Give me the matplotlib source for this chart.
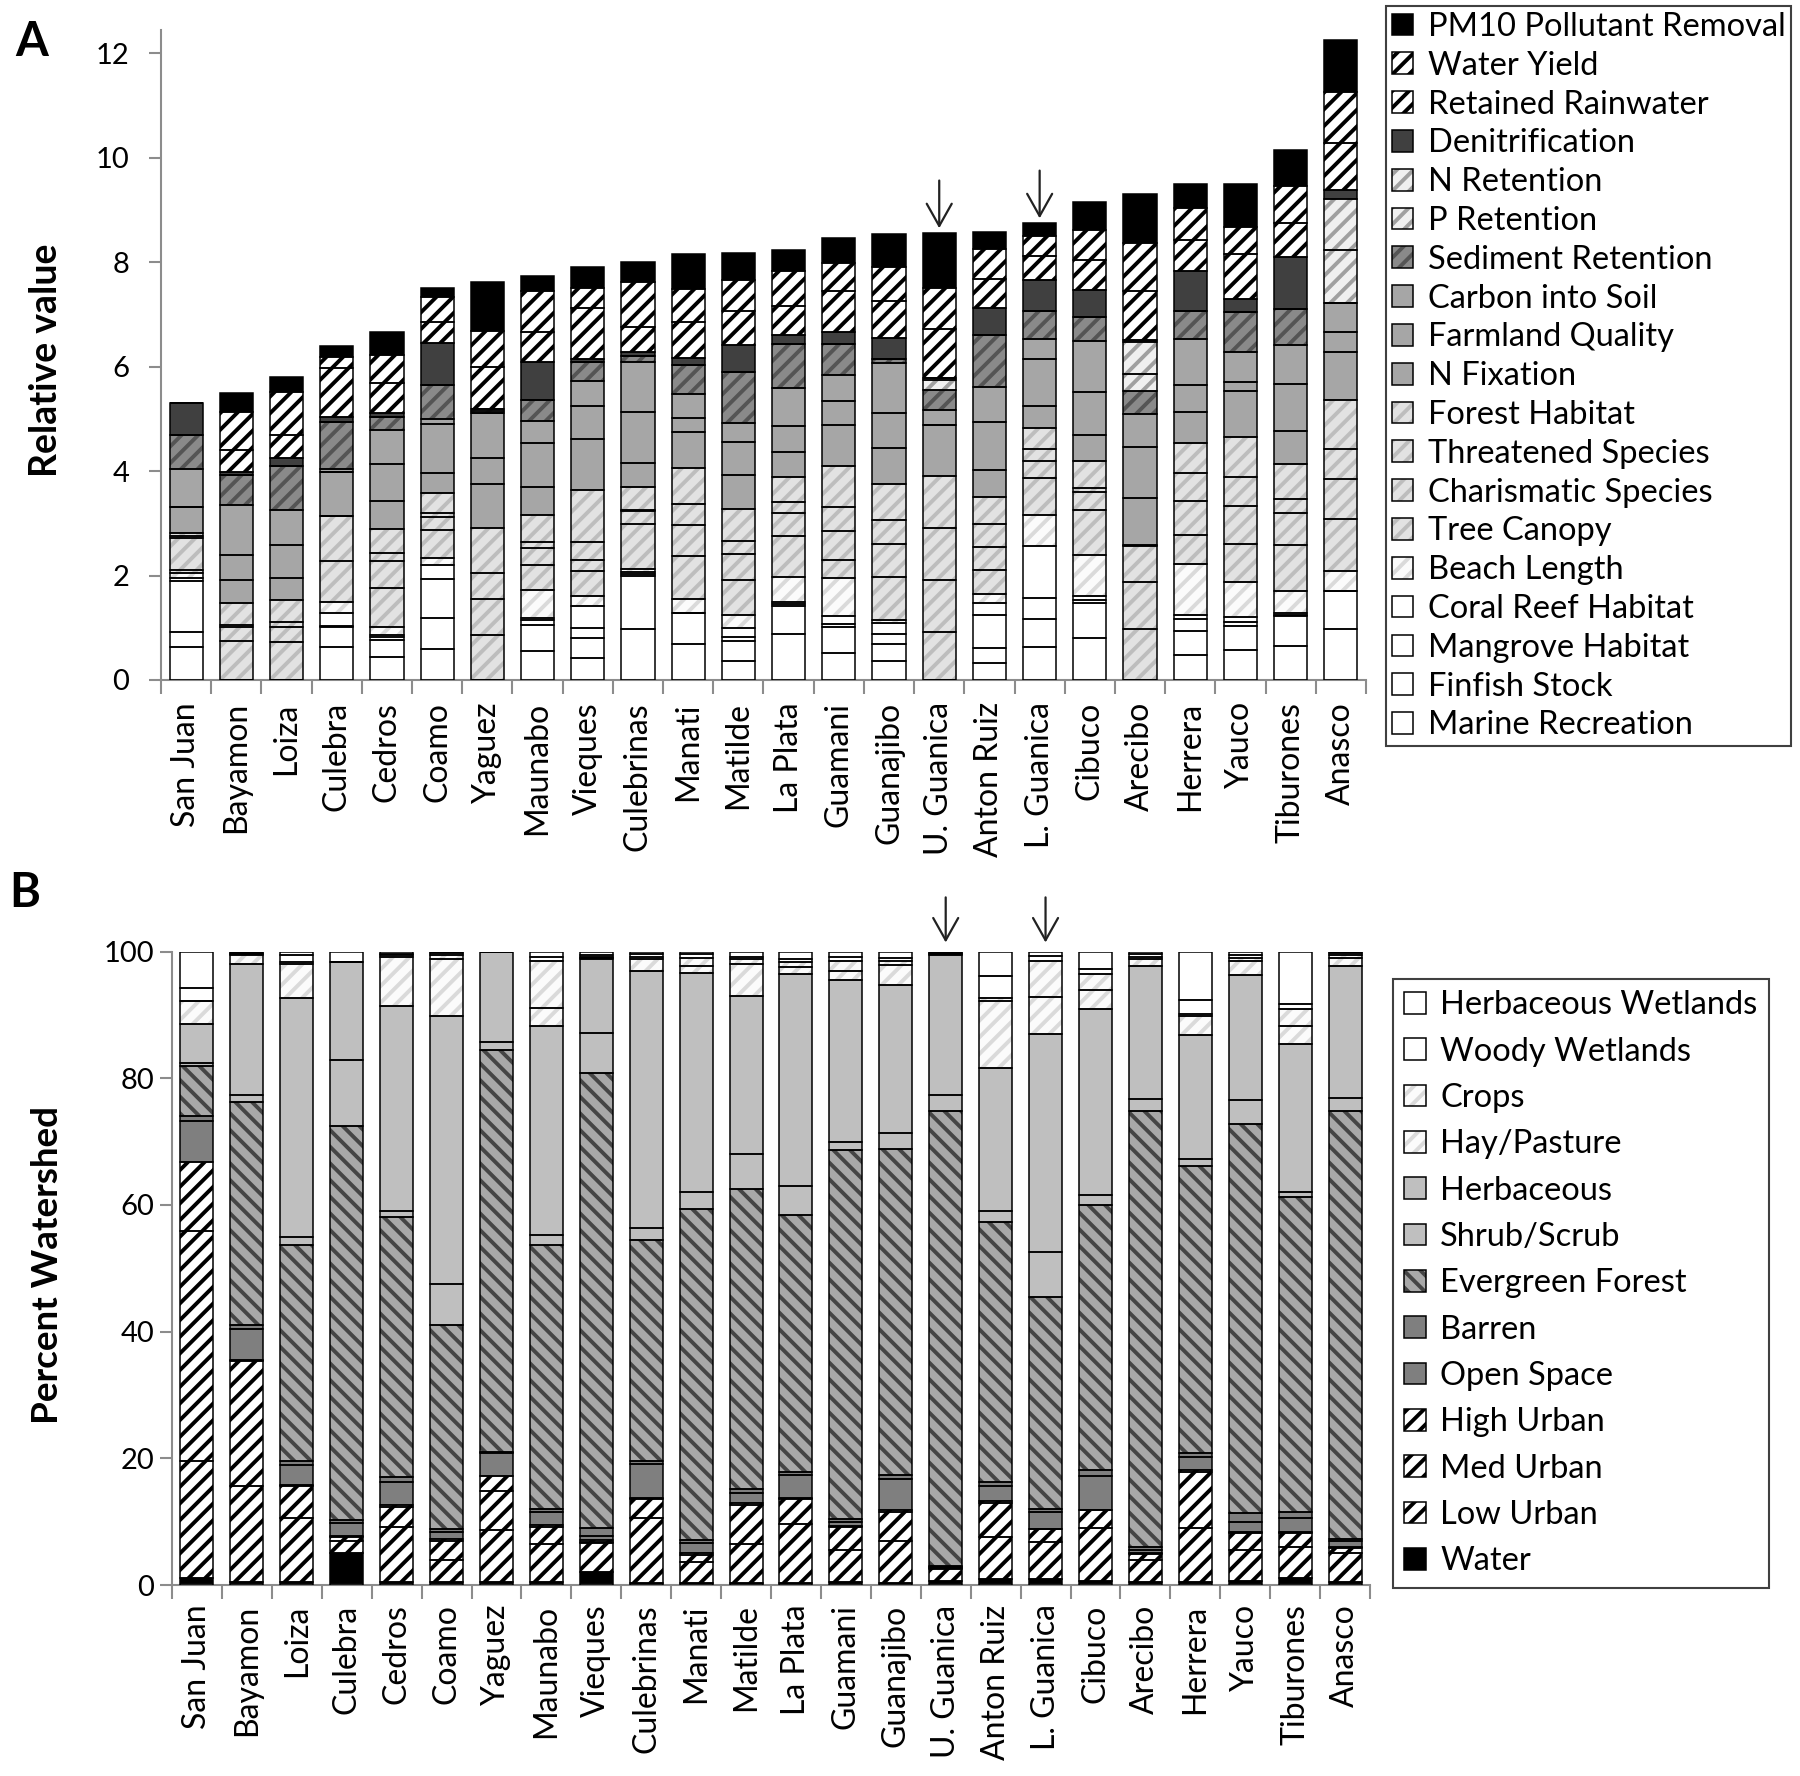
import matplotlib
matplotlib.use('Agg')
import matplotlib.pyplot as plt
from matplotlib.patches import Patch
import numpy as np

plt.rcParams['font.family'] = ['Lato', 'DejaVu Sans']
plt.rcParams['hatch.linewidth'] = 2.8

watersheds = ['San Juan', 'Bayamon', 'Loiza', 'Culebra', 'Cedros', 'Coamo', 'Yaguez',
              'Maunabo', 'Vieques', 'Culebrinas', 'Manati', 'Matilde', 'La Plata',
              'Guamani', 'Guanajibo', 'U. Guanica', 'Anton Ruiz', 'L. Guanica',
              'Cibuco', 'Arecibo', 'Herrera', 'Yauco', 'Tiburones', 'Anasco']
arrow_sites = ['U. Guanica', 'L. Guanica']

# panel A - ecosystem service relative values (stack order, bottom first)
marine_recreation = [0.63, 0, 0, 0.63, 0.45, 0.59, 0, 0.56, 0.43, 0.98, 0.69, 0.36, 0.89, 0.51, 0.36, 0, 0.32, 0.63, 0.81, 0, 0.47, 0.57, 0.66, 0.97]
finfish_stock = [0.29, 0, 0, 0.38, 0.32, 0.59, 0, 0.49, 0.38, 1.01, 0.60, 0.38, 0.53, 0.51, 0.33, 0, 0.29, 0.53, 0.67, 0, 0.47, 0.46, 0.56, 0.74]
mangrove_habitat = [0.98, 0, 0, 0.03, 0.05, 0.75, 0, 0.09, 0.19, 0.04, 0, 0.09, 0.04, 0.05, 0.20, 0, 0.63, 0.42, 0.06, 0, 0.23, 0.09, 0.03, 0]
coral_reef = [0.05, 0, 0, 0.24, 0.05, 0.27, 0, 0.04, 0.41, 0.03, 0, 0.16, 0.04, 0.15, 0.20, 0, 0.23, 0.99, 0.06, 0, 0.07, 0.08, 0.03, 0]
beach_length = [0.10, 0, 0, 0.22, 0.15, 0.13, 0, 0.54, 0.20, 0.07, 0.26, 0.25, 0.48, 0.73, 0.05, 0, 0.17, 0.59, 0.80, 0, 0.98, 0.68, 0.43, 0.37]
tree_canopy = [0.05, 0.75, 0.73, 0.77, 0.74, 0.54, 0.87, 0.48, 0.47, 0.85, 0.83, 0.67, 0.77, 0.35, 0.83, 0.91, 0.47, 0.70, 0.85, 0.97, 0.56, 0.73, 0.88, 1.00]
charismatic = [0.62, 0.27, 0.29, 0.87, 0.51, 0.26, 0.69, 0.32, 0.22, 0.25, 0.58, 0.50, 0.45, 0.55, 0.64, 1.00, 0.43, 0.33, 0.36, 0.91, 0.64, 0.73, 0.60, 0.77]
threatened = [0.04, 0.03, 0.10, 0, 0.16, 0.06, 0.48, 0.13, 0.35, 0.03, 0.41, 0.25, 0.20, 0.46, 0.46, 1.00, 0.44, 0.23, 0.07, 0.69, 0.54, 0.54, 0.27, 0.57]
forest_habitat = [0.05, 0.42, 0.41, 0, 0.46, 0.40, 0.88, 0.51, 0.99, 0.43, 0.69, 0.61, 0.49, 0.78, 0.69, 0.99, 0.52, 0.41, 0.51, 0.02, 0.57, 0.78, 0.67, 0.94]
n_fixation = [0.51, 0.44, 0.42, 0.85, 0.53, 0.38, 0.83, 0.54, 0.98, 0.47, 0.69, 0.66, 0.48, 0.79, 0.68, 0.99, 0.53, 0.42, 0.51, 0.90, 0.60, 0.87, 0.63, 0.93]
farmland = [0, 0.48, 0.64, 0, 0.71, 0.93, 0.50, 0.83, 0.63, 0.97, 0.27, 0.62, 0.49, 0.47, 0.68, 0, 0.91, 0.90, 0.82, 0.97, 0.52, 0.18, 0.91, 0.38]
carbon_soil = [0.72, 0.96, 0.67, 0.06, 0.65, 0.10, 0.86, 0.44, 0.48, 0.96, 0.45, 0.38, 0.73, 0.49, 0.95, 0.28, 0.68, 0.38, 0.98, 0.64, 0.88, 0.58, 0.75, 0.56]
sediment = [0.65, 0.58, 0.83, 0.90, 0.26, 0.65, 0, 0.39, 0.36, 0.11, 0.57, 0.96, 0.84, 0.60, 0.08, 0.38, 0.99, 0.53, 0.45, 0.44, 0.54, 0.75, 0.68, 0]
p_retention = [0, 0, 0, 0, 0, 0, 0.04, 0, 0, 0, 0, 0, 0, 0, 0, 0.19, 0, 0, 0, 0.33, 0, 0, 0, 1.01]
n_retention = [0, 0, 0, 0, 0, 0, 0.04, 0, 0, 0, 0, 0, 0, 0, 0, 0.04, 0, 0, 0, 0.60, 0, 0, 0, 0.97]
denitrification = [0.62, 0.05, 0.16, 0.09, 0.07, 0.81, 0, 0.74, 0.06, 0.09, 0.13, 0.53, 0.17, 0.23, 0.40, 0, 0.52, 0.60, 0.52, 0.04, 0.77, 0.26, 1.00, 0.17]
retained_rain = [0, 0.42, 0.44, 0.93, 0.57, 0.40, 0.81, 0.56, 0.98, 0.47, 0.69, 0.64, 0.57, 0.78, 0.71, 0.94, 0.56, 0.47, 0.57, 0.94, 0.59, 0.85, 0.65, 0.91]
water_yield = [0, 0.74, 0.83, 0.22, 0.55, 0.48, 0.69, 0.80, 0.38, 0.86, 0.63, 0.60, 0.66, 0.54, 0.66, 0.79, 0.57, 0.38, 0.57, 0.92, 0.61, 0.53, 0.72, 0.98]
pm10 = [0, 0.35, 0.28, 0.20, 0.44, 0.17, 0.94, 0.28, 0.41, 0.38, 0.66, 0.52, 0.40, 0.47, 0.63, 1.06, 0.33, 0.25, 0.54, 0.94, 0.46, 0.82, 0.68, 0.98]

# panel B - land cover percent of watershed (stack order, bottom first)
water = [1.1, 0.4, 0.4, 5.1, 0.5, 0.4, 0.4, 0.4, 2.0, 0.3, 0.3, 0.3, 0.3, 0.5, 0.3, 0.7, 0.9, 0.9, 0.7, 0.5, 0.5, 0.7, 1.1, 0.5]
low_urban = [18.5, 15.3, 10.1, 1.8, 8.6, 3.6, 8.3, 6.1, 4.6, 10.3, 3.4, 6.1, 9.3, 5.1, 6.7, 1.8, 6.7, 5.9, 8.3, 3.5, 8.5, 4.9, 4.9, 4.5]
med_urban = [36.3, 19.6, 5.1, 0.7, 3.2, 2.9, 6.2, 2.6, 0.2, 3.0, 1.0, 6.2, 4.0, 3.5, 4.5, 0.2, 5.4, 2.0, 2.8, 0.9, 8.9, 2.6, 2.2, 0.8]
high_urban = [10.9, 0.3, 0.2, 0.2, 0.4, 0.4, 2.3, 0.4, 0.3, 0.1, 0.3, 0.3, 0.2, 0.2, 0.3, 0.1, 0.3, 0.1, 0.1, 0.1, 0.2, 0.1, 0.1, 0.2]
open_space = [6.5, 4.8, 3.1, 2.0, 3.6, 1.0, 3.6, 2.1, 0.7, 5.4, 1.6, 1.7, 3.5, 0.7, 5.0, 0.1, 2.3, 2.7, 5.3, 0.6, 2.1, 1.7, 2.3, 1.0]
barren = [0.7, 0.7, 0.7, 0.4, 0.8, 0.6, 0.2, 0.4, 1.2, 0.4, 0.5, 0.5, 0.5, 0.4, 0.5, 0.1, 0.7, 0.4, 0.9, 0.4, 0.6, 1.3, 0.9, 0.3]
evergreen = [8.0, 35.1, 34.1, 62.2, 41.0, 32.2, 63.4, 41.7, 71.9, 35.0, 52.2, 47.4, 40.6, 58.2, 51.5, 71.9, 41.0, 33.4, 41.9, 68.9, 45.4, 61.5, 49.8, 67.6]
shrub = [0.4, 1.2, 1.2, 10.5, 0.9, 6.4, 1.4, 1.5, 6.3, 1.8, 2.8, 5.6, 4.6, 1.4, 2.5, 2.5, 1.8, 7.1, 1.6, 1.8, 1.1, 3.8, 0.7, 2.0]
herbaceous = [6.1, 20.6, 37.8, 15.4, 32.4, 42.3, 14.2, 33.1, 11.6, 40.7, 34.6, 24.9, 33.4, 25.5, 23.5, 22.1, 22.6, 34.5, 29.4, 21.0, 19.5, 19.7, 23.4, 20.8]
hay_pasture = [3.7, 1.4, 5.3, 0, 7.7, 9.1, 0, 2.8, 0.2, 1.8, 1.0, 5.1, 1.2, 1.5, 3.1, 0.2, 10.5, 5.8, 2.9, 1.1, 3.1, 2.2, 2.8, 1.3]
crops = [0, 0.2, 0.3, 0, 0.3, 0.5, 0, 7.4, 0.2, 0.4, 1.3, 0.7, 0.8, 1.5, 0.6, 0.1, 0.5, 5.7, 2.6, 0.4, 0.3, 0.5, 2.8, 0.5]
woody_wetlands = [2.0, 0.2, 1.1, 0.1, 0.3, 0.4, 0, 0.6, 0.2, 0.4, 0.6, 0.4, 0.5, 0.7, 0.5, 0.1, 3.4, 0.8, 0.8, 0.4, 2.2, 0.5, 0.7, 0.3]
herb_wetlands = [5.8, 0.2, 0.6, 1.6, 0.3, 0.2, 0, 0.9, 0.6, 0.4, 0.4, 0.8, 1.1, 0.8, 1.0, 0.1, 3.9, 0.7, 2.7, 0.4, 7.6, 0.5, 8.3, 0.2]

# fill styles: (face, hatch, hatch colour)
WHITE = ('white', None, 'black')
STRIPE = ('white', '//', 'black')
LIGHT = ('#e2e2e2', '//', '#bdbdbd')
FAINT = ('#fbfbfb', '//', '#dadada')
GRAY = ('#a6a6a6', None, 'black')

series_a = [
    ('Marine Recreation', marine_recreation, WHITE),
    ('Finfish Stock', finfish_stock, WHITE),
    ('Mangrove Habitat', mangrove_habitat, WHITE),
    ('Coral Reef Habitat', coral_reef, WHITE),
    ('Beach Length', beach_length, FAINT),
    ('Tree Canopy', tree_canopy, LIGHT),
    ('Charismatic Species', charismatic, LIGHT),
    ('Threatened Species', threatened, LIGHT),
    ('Forest Habitat', forest_habitat, LIGHT),
    ('N Fixation', n_fixation, GRAY),
    ('Farmland Quality', farmland, GRAY),
    ('Carbon into Soil', carbon_soil, GRAY),
    ('Sediment Retention', sediment, ('#8a8a8a', '//', '#555555')),
    ('P Retention', p_retention, ('#f0f0f0', '//', '#a0a0a0')),
    ('N Retention', n_retention, ('#f0f0f0', '//', '#a0a0a0')),
    ('Denitrification', denitrification, ('#404040', None, 'black')),
    ('Retained Rainwater', retained_rain, STRIPE),
    ('Water Yield', water_yield, STRIPE),
    ('PM10 Pollutant Removal', pm10, ('black', None, 'black')),
]

series_b = [
    ('Water', water, ('black', None, 'black')),
    ('Low Urban', low_urban, STRIPE),
    ('Med Urban', med_urban, STRIPE),
    ('High Urban', high_urban, STRIPE),
    ('Open Space', open_space, ('#7f7f7f', None, 'black')),
    ('Barren', barren, ('#7f7f7f', None, 'black')),
    ('Evergreen Forest', evergreen, ('#a8a8a8', '\\\\', '#454545')),
    ('Shrub/Scrub', shrub, ('#bfbfbf', None, 'black')),
    ('Herbaceous', herbaceous, ('#bfbfbf', None, 'black')),
    ('Hay/Pasture', hay_pasture, FAINT),
    ('Crops', crops, FAINT),
    ('Woody Wetlands', woody_wetlands, WHITE),
    ('Herbaceous Wetlands', herb_wetlands, WHITE),
]

W, H = 1800, 1776
fig = plt.figure(figsize=(W / 100, H / 100), dpi=100)
axA = fig.add_axes([161 / W, 1 - 680 / H, 1205 / W, 650 / H])
axB = fig.add_axes([172 / W, 1 - 1585 / H, 1198 / W, 633.4 / H])

x = np.arange(len(watersheds))
bw = 0.66


def stack(ax, series):
    bottom = np.zeros(len(watersheds))
    handles = []
    for name, vals, (face, hatch, hc) in series:
        vals = np.array(vals, dtype=float)
        ax.bar(x, vals, bw, bottom=bottom, color=face, hatch=hatch,
               edgecolor=hc, linewidth=0, zorder=2)
        ax.bar(x, vals, bw, bottom=bottom, fill=False, edgecolor='black',
               linewidth=1.1, zorder=3)
        h1 = Patch(facecolor=face, hatch=hatch, edgecolor=hc, linewidth=0)
        h2 = Patch(fill=False, edgecolor='black', linewidth=1.1)
        handles.append(((h1, h2), name))
        bottom = bottom + vals
    return bottom, handles


def style_axis(ax, ymax, step, xpad):
    for s in ['top', 'right']:
        ax.spines[s].set_visible(False)
    for s in ['left', 'bottom']:
        ax.spines[s].set_color('#8c8c8c')
        ax.spines[s].set_linewidth(1.5)
    ax.set_xlim(-0.5, len(watersheds) - 0.5)
    ax.set_ylim(0, ymax)
    ax.set_yticks(np.arange(0, ymax + 0.01, step))
    ax.set_xticks(x)
    ax.set_xticklabels(watersheds, rotation=90, fontsize=23)
    ax.set_xticks(np.arange(-0.5, len(watersheds)), minor=True)
    ax.tick_params(axis='x', which='major', length=0, pad=xpad)
    ax.tick_params(axis='x', which='minor', length=10, width=1.5, color='#8c8c8c')
    ax.tick_params(axis='y', length=9, width=1.5, color='#8c8c8c', labelsize=21, pad=14)


totA, handlesA = stack(axA, series_a)
totB, handlesB = stack(axB, series_b)

style_axis(axA, 12.45, 2, 16)
axA.set_yticks(np.arange(0, 13, 2))
style_axis(axB, 100, 20, 14)
axB.tick_params(axis='y', pad=4)

for site in arrow_sites:
    i = watersheds.index(site)
    axA.annotate('', xy=(i, totA[i] + 0.03), xytext=(i, totA[i] + 1.05),
                 arrowprops=dict(arrowstyle='->,head_length=0.8,head_width=0.45',
                                 lw=1.6, color='#222222', mutation_scale=20),
                 annotation_clip=False)
    axB.annotate('', xy=(i, 101.0), xytext=(i, 109.0),
                 arrowprops=dict(arrowstyle='->,head_length=0.8,head_width=0.45',
                                 lw=1.6, color='#222222', mutation_scale=20),
                 annotation_clip=False)

fig.text(46 / W, 1 - 360 / H, 'Relative value', rotation=90, fontsize=27,
         fontweight='bold', ha='center', va='center')
fig.text(48 / W, 1 - 1265 / H, 'Percent Watershed', rotation=90, fontsize=26.5,
         fontweight='bold', ha='center', va='center')
fig.text(32 / W, 1 - 42 / H, 'A', fontsize=34, fontweight='bold', ha='center', va='center')
fig.text(25 / W, 1 - 893 / H, 'B', fontsize=34, fontweight='bold', ha='center', va='center')

legA = fig.legend([h for h, _ in handlesA[::-1]], [n for _, n in handlesA[::-1]],
                  loc='upper left', bbox_to_anchor=(1386 / W, 1 - 6 / H),
                  fontsize=23.5, labelspacing=0.27, handlelength=0.65, handleheight=0.65,
                  handletextpad=0.45, borderpad=0.18, borderaxespad=0,
                  fancybox=False, framealpha=1)
legA.get_frame().set_edgecolor('#404040')
legA.get_frame().set_linewidth(1.5)

legB = fig.legend([h for h, _ in handlesB[::-1]], [n for _, n in handlesB[::-1]],
                  loc='upper left', bbox_to_anchor=(1393 / W, 1 - 979 / H),
                  fontsize=23.5, labelspacing=0.5, handlelength=0.65, handleheight=0.65,
                  handletextpad=0.45, borderpad=0.35, borderaxespad=0,
                  fancybox=False, framealpha=1)
legB.get_frame().set_edgecolor('#404040')
legB.get_frame().set_linewidth(1.5)

fig.savefig('out.png', dpi=100, facecolor='white')
